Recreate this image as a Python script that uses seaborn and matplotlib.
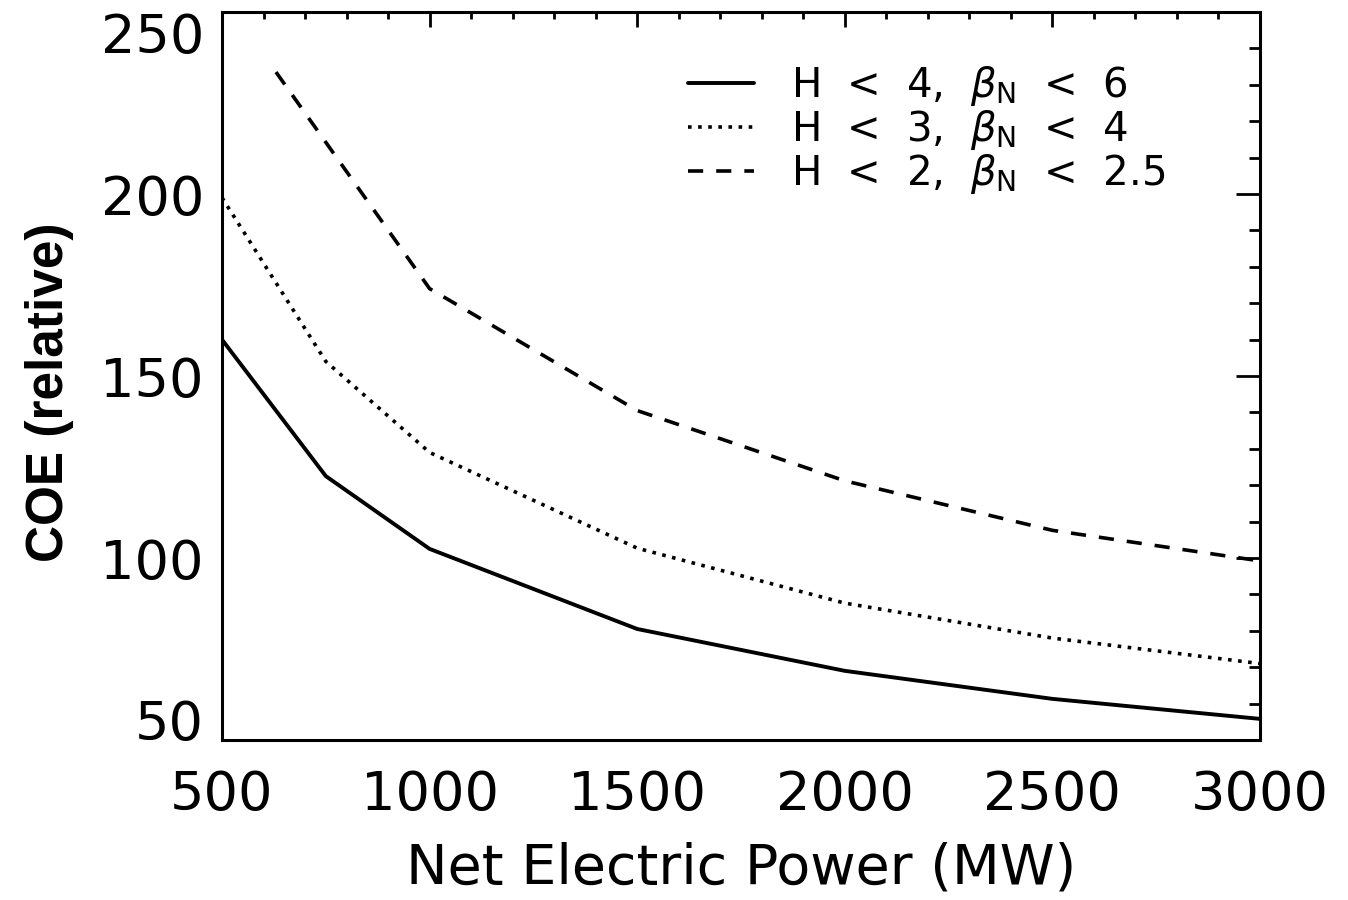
import pandas as pd
import matplotlib.pyplot as plt
import seaborn as sns
from matplotlib.ticker import MultipleLocator

# values
power_h4 = [500, 750, 1000, 1500, 2000, 2500, 3000]
coe_h4 = [160, 122.5, 102.5, 80.5, 69, 61.3, 55.8]

power_h3 = [500, 750, 1000, 1500, 2000, 2500, 3000]
coe_h3 = [199, 154, 129, 102.7, 87.6, 78, 71]

power_h2 = [630, 1000, 1500, 2000, 2500, 3000]
coe_h2 = [233.5, 174, 140.5, 121.2, 107.6, 99.2]

labels = [r'H  <  4,  $\beta_{\mathrm{N}}$  <  6',
          r'H  <  3,  $\beta_{\mathrm{N}}$  <  4',
          r'H  <  2,  $\beta_{\mathrm{N}}$  <  2.5']

x_ticks = [500, 1000, 1500, 2000, 2500, 3000]
y_ticks = [50, 100, 150, 200, 250]

sns.set_style('white')
plt.rcParams['font.family'] = ['DejaVu Sans']
plt.rcParams['text.color'] = 'black'
plt.rcParams['axes.labelcolor'] = 'black'
plt.rcParams['mathtext.fontset'] = 'dejavusans'

df_h4 = pd.DataFrame({'power': power_h4, 'coe': coe_h4})
df_h3 = pd.DataFrame({'power': power_h3, 'coe': coe_h3})
df_h2 = pd.DataFrame({'power': power_h2, 'coe': coe_h2})

fig = plt.figure(figsize=(13.48, 9), dpi=100)
ax = fig.add_axes([222 / 1348, 1 - 740 / 900, 1038 / 1348, 728 / 900])

sns.lineplot(data=df_h4, x='power', y='coe', ax=ax, color='black', lw=2.8,
             label=labels[0])
sns.lineplot(data=df_h3, x='power', y='coe', ax=ax, color='black', lw=2.6,
             linestyle=(0, (1, 1.8)), label=labels[1])
sns.lineplot(data=df_h2, x='power', y='coe', ax=ax, color='black', lw=2.6,
             linestyle=(0, (4.2, 3.6)), label=labels[2])

ax.set_xlim(500, 3000)
ax.set_ylim(50, 250)
ax.set_xticks(x_ticks)
ax.set_yticks(y_ticks)
ax.xaxis.set_minor_locator(MultipleLocator(100))
ax.yaxis.set_minor_locator(MultipleLocator(10))

for s in ax.spines.values():
    s.set_linewidth(2.2)
    s.set_color('black')

ax.tick_params(which='both', direction='in', top=True, right=True,
               colors='black', width=2)
ax.tick_params(axis='x', which='major', length=11, labelsize=39, pad=21)
ax.tick_params(axis='x', which='minor', length=5)
ax.tick_params(axis='y', which='major', length=17, labelsize=39, pad=13)
ax.tick_params(axis='y', which='minor', length=8)

ylabs = ax.get_yticklabels()
ylabs[0].set_va('baseline')
ylabs[-1].set_va('top')

ax.set_xlabel('Net Electric Power (MW)', fontsize=40)
ax.set_ylabel('COE (relative)', fontsize=37, fontweight='bold',
              family='Liberation Sans')
ax.xaxis.set_label_coords(0.5, -0.139)
ax.yaxis.set_label_coords(-0.143, 0.478)

ax.legend(loc='upper left', bbox_to_anchor=(688 / 1348, 1 - 64 / 900),
          bbox_transform=fig.transFigure, frameon=False, fontsize=29,
          borderpad=0, borderaxespad=0, handlelength=1.65,
          handletextpad=0.9, labelspacing=0)

fig.savefig('out.png', dpi=100)
